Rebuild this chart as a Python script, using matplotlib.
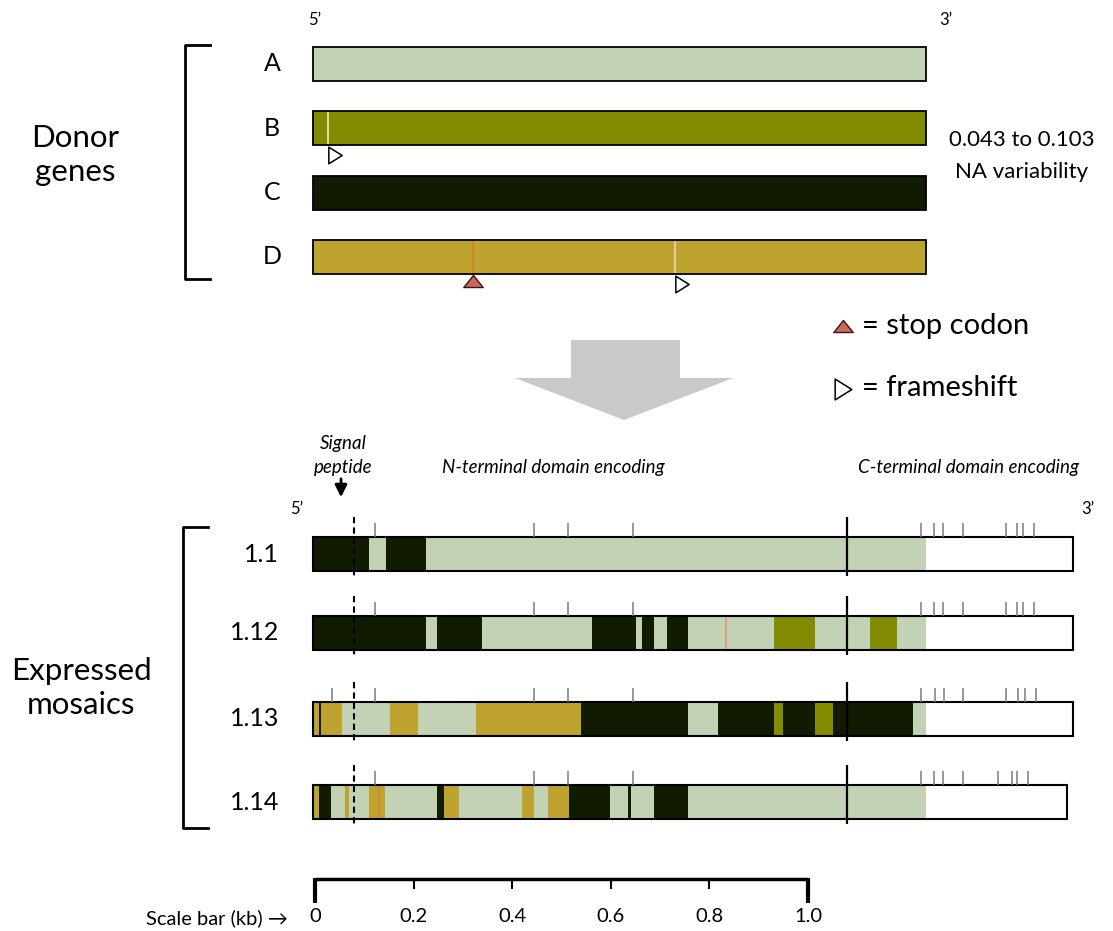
import matplotlib
matplotlib.use('Agg')
import matplotlib.pyplot as plt
from matplotlib.patches import Polygon
from matplotlib.path import Path
import numpy as np

plt.rcParams['font.family'] = ['Lato', 'DejaVu Sans']

# ---- data (positions in kb) ----
donor_names = ['A', 'B', 'C', 'D']
donor_colors = {'A': '#C3D1B4', 'B': '#838C00', 'C': '#111B02', 'D': '#BEA42E'}
donor_len = 1.243

frameshift_sites = [('B', 0.030), ('D', 0.734)]
stop_sites = [('D', 0.325)]

mosaic_names = ['1.1', '1.12', '1.13', '1.14']
mosaic_len = [1.542, 1.542, 1.542, 1.529]
mosaic_breaks = [
    [0, 0.113, 0.149, 0.229, 1.243],
    [0, 0.229, 0.251, 0.343, 0.565, 0.655, 0.667, 0.692, 0.718, 0.761,
     0.935, 1.018, 1.130, 1.185, 1.243],
    [0, 0.012, 0.016, 0.058, 0.156, 0.213, 0.330, 0.543, 0.761, 0.822,
     0.936, 0.953, 1.018, 1.055, 1.217, 1.243],
    [0, 0.012, 0.037, 0.064, 0.073, 0.114, 0.146, 0.251, 0.266, 0.296,
     0.423, 0.448, 0.477, 0.519, 0.603, 0.639, 0.646, 0.692, 0.761, 1.243],
]
mosaic_donors = [
    ['C', 'A', 'C', 'A'],
    ['C', 'A', 'C', 'A', 'C', 'A', 'C', 'A', 'C', 'A', 'B', 'A', 'B', 'A'],
    ['D', 'C', 'D', 'A', 'D', 'A', 'D', 'C', 'A', 'C', 'B', 'C', 'B', 'C', 'A'],
    ['D', 'C', 'A', 'D', 'A', 'D', 'A', 'C', 'D', 'A', 'D', 'A', 'D', 'C',
     'A', 'C', 'A', 'C', 'A'],
]
mosaic_ticks = [
    [0.126, 0.449, 0.518, 0.650, 1.233, 1.260, 1.278, 1.318, 1.405, 1.429, 1.441, 1.462],
    [0.126, 0.449, 0.518, 0.650, 1.233, 1.260, 1.278, 1.318, 1.405, 1.429, 1.441, 1.462],
    [0.039, 0.126, 0.449, 0.518, 0.650, 1.234, 1.262, 1.280, 1.319, 1.406, 1.431, 1.445, 1.467],
    [0.126, 0.449, 0.518, 0.650, 1.234, 1.260, 1.278, 1.318, 1.390, 1.417, 1.429, 1.451],
]
# single-site marks inside bars: (row, kb, colour)
donor_marks = [('B', 0.030, '#E6ECCB'), ('D', 0.325, '#D77A3C'), ('D', 0.734, '#E4DCA8')]
mosaic_marks = [('1.12', 0.838, '#E9917C'), ('1.14', 0.134, '#D9822B')]

signal_end = 0.083
domain_boundary = 1.083
scale_ticks = [0, 0.2, 0.4, 0.6, 0.8, 1.0]
scale_labels = ['0', '0.2', '0.4', '0.6', '0.8', '1.0']

# ---- layout (pixels) ----
W, H = 1113, 931
X0, PPK = 313, 493          # bar origin in px, px per kb
bar_h = 34
donor_y = [63.5, 128, 192.5, 256.5]
mosaic_y = [554, 633, 719, 802]

fs_marker = Path([(-0.8, -1), (-0.8, 1), (0.8, 0), (-0.8, -1)], closed=True)
stop_marker = Path([(-1, -0.62), (1, -0.62), (0, 0.62), (-1, -0.62)], closed=True)

fig = plt.figure(figsize=(W / 100, H / 100), dpi=100)
deco = fig.add_axes([0, 0, 1, 1])
deco.set_xlim(0, W)
deco.set_ylim(H, 0)
deco.axis('off')

ax = fig.add_axes([0, 0, 1, 1])
ax.set_xlim(-X0 / PPK, (W - X0) / PPK)
ax.set_ylim(H, 0)
ax.axis('off')

# donor genes
for name, yc in zip(donor_names, donor_y):
    ax.barh(yc, donor_len, left=0, height=bar_h, color=donor_colors[name],
            edgecolor='black', linewidth=1.3)
    ax.text(-41 / PPK, yc, name, ha='center', va='center', fontsize=18)
for row, x, c in donor_marks:
    yc = donor_y[donor_names.index(row)]
    ax.vlines(x, yc - bar_h / 2 + 1, yc + bar_h / 2 - 1, colors=c, lw=1.2)

for row, x in frameshift_sites:
    yc = donor_y[donor_names.index(row)]
    ax.plot(x + 7 / PPK, yc + bar_h / 2 + 10, marker=fs_marker, ms=12,
            mfc='white', mec='black', mew=1.1, ls='none')
for row, x in stop_sites:
    yc = donor_y[donor_names.index(row)]
    ax.plot(x, yc + bar_h / 2 + 7.5, marker=stop_marker, ms=14,
            mfc='#CF665B', mec='#3A1510', mew=1.0, ls='none')

# expressed mosaics
for i, name in enumerate(mosaic_names):
    yc = mosaic_y[i]
    top, bot = yc - bar_h / 2, yc + bar_h / 2
    b = np.array(mosaic_breaks[i])
    ax.barh(yc, mosaic_len[i], left=0, height=bar_h, color='white', linewidth=0)
    ax.barh(np.full(len(b) - 1, yc), np.diff(b), left=b[:-1], height=bar_h,
            color=[donor_colors[d] for d in mosaic_donors[i]], linewidth=0)
    ax.barh(yc, mosaic_len[i], left=0, height=bar_h, fill=False,
            edgecolor='black', linewidth=1.5)
    ax.vlines(mosaic_ticks[i], top - 14, top, colors='#7a7a7a', lw=1.1)
    ax.vlines(signal_end, top - 20, bot + 5, colors='black', lw=1.5,
              linestyles=(0, (3, 2)))
    ax.vlines(domain_boundary, top - 20, bot + 5, colors='black', lw=1.6)
    ax.text(-34 / PPK, yc, name, ha='right', va='center', fontsize=18)
for row, x, c in mosaic_marks:
    yc = mosaic_y[mosaic_names.index(row)]
    ax.vlines(x, yc - bar_h / 2 + 1, yc + bar_h / 2 - 1, colors=c, lw=1.2)

# scale bar
sx = 2 / PPK
ax.plot([scale_ticks[0] + sx, scale_ticks[-1] + sx], [879, 879], color='black',
        lw=2.5, solid_capstyle='butt')
ax.vlines([scale_ticks[0] + sx, scale_ticks[-1] + sx], 878, 903, colors='black', lw=3)
ax.vlines(np.array(scale_ticks[1:-1]) + sx, 879, 889, colors='black', lw=1.5)
for t, lab in zip(scale_ticks, scale_labels):
    ax.text(t + sx, 917, lab, ha='center', va='center', fontsize=14.5)

# ---- decorations ----
deco.plot([210, 185, 185, 210], [45, 45, 279, 279], color='black', lw=2)
deco.plot([208, 183, 183, 208], [527, 527, 828, 828], color='black', lw=2)
deco.text(75, 155, 'Donor\ngenes', ha='center', va='center', fontsize=22.5,
          linespacing=1.3)
deco.text(81, 688, 'Expressed\nmosaics', ha='center', va='center', fontsize=22.5,
          linespacing=1.3)
deco.text(1022, 140, '0.043 to 0.103', ha='center', va='center', fontsize=16)
deco.text(1022, 172, 'NA variability', ha='center', va='center', fontsize=16)

deco.text(315, 20, '5’', ha='center', va='center', fontsize=12)
deco.text(946, 20, '3’', ha='center', va='center', fontsize=12)
deco.text(297, 509, '5’', ha='center', va='center', fontsize=12)
deco.text(1088, 509, '3’', ha='center', va='center', fontsize=12)

deco.add_patch(Polygon([(571, 340), (680, 340), (680, 378), (733, 378),
                        (624, 420), (515, 378), (571, 378)],
                       closed=True, facecolor='#C9C9C9', edgecolor='none'))

deco.plot(843, 326, marker=stop_marker, ms=14, mfc='#CF665B', mec='#3A1510',
          mew=1.0, ls='none')
deco.text(862, 326, '= stop codon', ha='left', va='center', fontsize=21)
deco.plot(843, 389, marker=fs_marker, ms=15, mfc='white', mec='black',
          mew=1.1, ls='none')
deco.text(862, 388, '= frameshift', ha='left', va='center', fontsize=21)

deco.text(343, 443, 'Signal', ha='center', va='center', fontsize=13.5, style='italic')
deco.text(343, 468, 'peptide', ha='center', va='center', fontsize=13.5, style='italic')
deco.annotate('', xy=(341, 500), xytext=(341, 476),
              arrowprops=dict(arrowstyle='-|>', color='black', lw=2,
                              mutation_scale=18))
deco.text(553, 467, 'N-terminal domain encoding', ha='center', va='center',
          fontsize=13.5, style='italic')
deco.text(969, 467, 'C-terminal domain encoding', ha='center', va='center',
          fontsize=13.5, style='italic')

deco.text(288, 918, 'Scale bar (kb) →', ha='right', va='center', fontsize=14.5)

fig.savefig('out.png', dpi=100, facecolor='white')
